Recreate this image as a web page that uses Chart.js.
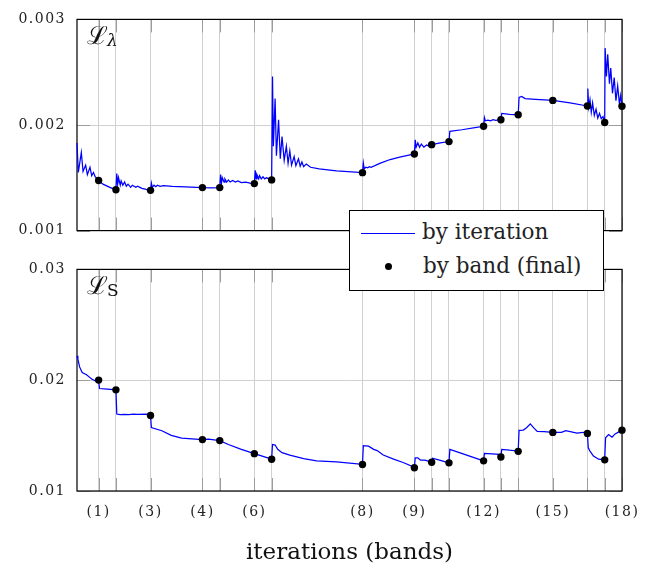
<!DOCTYPE html>
<html><head><meta charset="utf-8">
<script src="https://cdn.jsdelivr.net/npm/chart.js@4/dist/chart.umd.min.js"></script>
<style>
html,body{margin:0;padding:0;background:#fff;}
#wrap{position:relative;width:664px;height:567px;overflow:hidden;background:#fff;}
#c1{position:absolute;left:0;top:0;}
#c2{position:absolute;left:0;top:250px;}
#legend{position:absolute;left:349px;top:210px;width:255px;height:81px;box-sizing:border-box;border:1px solid #000;background:#fff;font-family:'DejaVu Serif',serif;font-size:21.5px;color:#222;}
#legend .t{position:absolute;line-height:24px;white-space:nowrap;}
#legend .ln{position:absolute;left:11px;top:22px;width:54px;height:1.3px;background:#0000ff;}
#legend .dot{position:absolute;left:34.6px;top:51.9px;width:7.4px;height:7.4px;border-radius:50%;background:#000;}
</style>
</head><body>
<div id="wrap">
<canvas id="c1" width="664" height="250"></canvas>
<canvas id="c2" width="664" height="317"></canvas>
<div id="legend">
  <div class="ln"></div><div class="t" style="left:72px;top:9px;">by iteration</div>
  <div class="dot"></div><div class="t" style="left:73px;top:43px;">by band (final)</div>
</div>
</div>
<script>
// ---- data ----
const bandEnds = [25,45,85,145,165,205,225,330,390,410,430,470,490,510,550,590,610,630];
const bandTickLabels = ['(1)','','(3)','(4)','','(6)','','(8)','(9)','','','(12)','','','(15)','','','(18)'];
const xTitle = 'iterations (bands)';

const lambdaIter = [0,1.5,5,7,10,12,15,17,19,21,25,30,38,45,46,47,48,50,51,53,55,57,59,62,64,68,70,75,80,85,86,87,89,91,93,96,100,110,125,145,155,165,166,167,168,170,171,173,175,177,180,183,186,190,195,200,205,206,207,208,210,211,213,215,217,219,222,225,226,227,229,230.5,233,235,237,239.5,242,244,246,248,251,253,256,258,260,262,265,270,280,300,330,331,332,334,336,338,340,350,362,373,385,390,391,392,394,396,398,401,404,407,410,420,430,431,445,460,470,471,472,475,478,481,484,490,491,500,510,511,514,518,530,550,570,590,590.5,591.5,593,594.5,596,598,600,602,604,606,608,610,610.5,612,613.5,615.5,617,619,621,623,625,627,628.5,630];
const lambdaVal = [1.83e-3,1.55e-3,1.74e-3,1.56e-3,1.62e-3,1.53e-3,1.60e-3,1.52e-3,1.55e-3,1.51e-3,1.475e-3,1.44e-3,1.41e-3,1.387e-3,1.54e-3,1.44e-3,1.50e-3,1.43e-3,1.47e-3,1.43e-3,1.46e-3,1.42e-3,1.44e-3,1.41e-3,1.43e-3,1.41e-3,1.42e-3,1.40e-3,1.39e-3,1.381e-3,1.45e-3,1.41e-3,1.43e-3,1.415e-3,1.43e-3,1.42e-3,1.425e-3,1.418e-3,1.415e-3,1.407e-3,1.405e-3,1.407e-3,1.53e-3,1.45e-3,1.50e-3,1.46e-3,1.49e-3,1.46e-3,1.48e-3,1.46e-3,1.475e-3,1.46e-3,1.47e-3,1.455e-3,1.46e-3,1.45e-3,1.445e-3,1.57e-3,1.49e-3,1.53e-3,1.49e-3,1.52e-3,1.49e-3,1.51e-3,1.49e-3,1.50e-3,1.49e-3,1.48e-3,2.46e-3,1.80e-3,2.25e-3,1.71e-3,2.05e-3,1.68e-3,1.89e-3,1.666e-3,1.80e-3,1.637e-3,1.755e-3,1.62e-3,1.70e-3,1.615e-3,1.68e-3,1.61e-3,1.65e-3,1.605e-3,1.63e-3,1.60e-3,1.585e-3,1.565e-3,1.549e-3,1.64e-3,1.585e-3,1.60e-3,1.595e-3,1.605e-3,1.60e-3,1.637e-3,1.673e-3,1.696e-3,1.717e-3,1.726e-3,1.86e-3,1.79e-3,1.83e-3,1.79e-3,1.82e-3,1.79e-3,1.81e-3,1.80e-3,1.814e-3,1.83e-3,1.843e-3,1.94e-3,1.955e-3,1.975e-3,1.988e-3,2.07e-3,2.04e-3,2.045e-3,2.04e-3,2.05e-3,2.045e-3,2.05e-3,2.11e-3,2.10e-3,2.097e-3,2.26e-3,2.27e-3,2.25e-3,2.243e-3,2.233e-3,2.21e-3,2.18e-3,2.345e-3,2.17e-3,2.24e-3,2.12e-3,2.21e-3,2.09e-3,2.15e-3,2.065e-3,2.11e-3,2.06e-3,2.08e-3,2.027e-3,2.73e-3,2.46e-3,2.67e-3,2.39e-3,2.54e-3,2.30e-3,2.45e-3,2.23e-3,2.37e-3,2.20e-3,2.28e-3,2.177e-3];
const lambdaBand = [1.475e-3,1.387e-3,1.381e-3,1.407e-3,1.407e-3,1.445e-3,1.48e-3,1.549e-3,1.726e-3,1.814e-3,1.843e-3,1.988e-3,2.05e-3,2.097e-3,2.233e-3,2.18e-3,2.024e-3,2.177e-3];

const sIter = [0,1,3,6,11,14,17,21,25,26,35,45,46,50,55,60,65,70,80,85,86,98,109,121,133,145,152,165,175,190,205,225,226,229,232,237,246,262,277,300,330,331,337,343,347,354,366,377,390,391,394,397,402,410,411,420,430,431,470,471,480,488,490,491,500,510,511,516,520,524,528,532,540,550,560,565,578,585,590,591,593,597,603,610,611,614.5,618.5,622,628,630];
const sVal = [2.22e-2,2.19e-2,2.12e-2,2.07e-2,2.05e-2,2.03e-2,2.01e-2,1.995e-2,2.00e-2,1.925e-2,1.92e-2,1.913e-2,1.695e-2,1.69e-2,1.692e-2,1.69e-2,1.693e-2,1.692e-2,1.694e-2,1.682e-2,1.573e-2,1.544e-2,1.502e-2,1.478e-2,1.47e-2,1.464e-2,1.468e-2,1.455e-2,1.42e-2,1.376e-2,1.337e-2,1.287e-2,1.42e-2,1.415e-2,1.376e-2,1.346e-2,1.323e-2,1.293e-2,1.272e-2,1.263e-2,1.24e-2,1.41e-2,1.405e-2,1.376e-2,1.365e-2,1.325e-2,1.287e-2,1.257e-2,1.213e-2,1.30e-2,1.30e-2,1.278e-2,1.278e-2,1.26e-2,1.296e-2,1.276e-2,1.254e-2,1.376e-2,1.272e-2,1.34e-2,1.335e-2,1.33e-2,1.31e-2,1.376e-2,1.368e-2,1.361e-2,1.547e-2,1.55e-2,1.573e-2,1.606e-2,1.57e-2,1.538e-2,1.535e-2,1.529e-2,1.53e-2,1.544e-2,1.523e-2,1.53e-2,1.517e-2,1.39e-2,1.36e-2,1.316e-2,1.287e-2,1.281e-2,1.48e-2,1.51e-2,1.485e-2,1.515e-2,1.54e-2,1.549e-2];
const sBand = [2.001e-2,1.913e-2,1.682e-2,1.464e-2,1.455e-2,1.337e-2,1.287e-2,1.239e-2,1.21e-2,1.26e-2,1.254e-2,1.272e-2,1.307e-2,1.358e-2,1.529e-2,1.52e-2,1.281e-2,1.549e-2];

const lambdaTicks = [0.001,0.002,0.003];
const lambdaTickLabels = ['0.001','0.002','0.003'];
const sTicks = [0.01,0.02,0.03];
const sTickLabels = ['0.01','0.02','0.03'];

// ---- drawing ----
const SERIF = "'DejaVu Serif', serif";
const GRID = '#d0d0d0';
const TICKMARK = '#9c9c9c';
const TICK_LS = '1.5px';

function pts(xs, ys){ return xs.map((x,i)=>({x:x, y:ys[i]})); }
function setLS(ctx, v){ try{ ctx.letterSpacing = v; }catch(e){} }

const decor = {
  id:'decor',
  beforeDraw(chart){ setLS(chart.ctx, TICK_LS); },
  beforeDatasetsDraw(chart){
    const ctx = chart.ctx, a = chart.chartArea;
    const xs = chart.scales.x, ys = chart.scales.y;
    ctx.save();
    setLS(ctx, '0px');
    ctx.strokeStyle = TICKMARK; ctx.lineWidth = 1;
    ctx.beginPath();
    xs.ticks.forEach(t=>{
      const x = Math.round(xs.getPixelForValue(t.value))+0.5;
      ctx.moveTo(x, a.bottom); ctx.lineTo(x, a.bottom-13);
      ctx.moveTo(x, a.top); ctx.lineTo(x, a.top+13);
    });
    ys.ticks.forEach(t=>{
      const y = Math.round(ys.getPixelForValue(t.value))+0.5;
      ctx.moveTo(a.left, y); ctx.lineTo(a.left+13, y);
      ctx.moveTo(a.right, y); ctx.lineTo(a.right-13, y);
    });
    ctx.stroke();
    ctx.strokeStyle = '#000'; ctx.lineWidth = 1.2;
    ctx.strokeRect(a.left, a.top, a.right-a.left, a.bottom-a.top);
    ctx.restore();
  },
  afterDraw(chart, args, opts){
    const ctx = chart.ctx, a = chart.chartArea;
    ctx.save();
    setLS(ctx, '0px');
    ctx.fillStyle = '#111';
    ctx.textBaseline = 'alphabetic';
    ctx.textAlign = 'left';
    ctx.font = "25px " + SERIF;
    ctx.fillText('\u2112', a.left+10, a.top+25);
    ctx.font = (opts.italic ? 'italic ' : '') + "17px " + SERIF;
    ctx.fillText(opts.sub, a.left+30, a.top+27);
    ctx.restore();
  }
};

function makeChart(id, xv, yv, band, yTicks, yLabels, isBottom, sub, subItalic){
  return new Chart(document.getElementById(id), {
    data:{ datasets:[
      { type:'scatter', data: pts(bandEnds, band), pointRadius:3.7, pointHoverRadius:3.7,
        backgroundColor:'#000', borderWidth:0, order:0, clip:false },
      { type:'line', data: pts(xv, yv), borderColor:'#0000ff', borderWidth:1.25,
        pointRadius:0, tension:0, fill:false, order:1, clip:2 }
    ]},
    options:{
      responsive:false, animation:false, devicePixelRatio:1,
      events:[],
      layout:{ padding:{ left:0, right:42, top: isBottom?15:11, bottom:0 } },
      plugins:{ legend:{display:false}, tooltip:{enabled:false}, decor:{ sub:sub, italic:subItalic } },
      scales:{
        x:{ type:'linear', min:0, max:630,
            afterBuildTicks(s){ s.ticks = bandEnds.map(v=>({value:v})); },
            afterFit(s){
              s.height = isBottom ? 76 : 13;
              if (!s._titlePatched){
                const orig = s.drawTitle;
                s.drawTitle = function(){ setLS(this.ctx,'0px'); orig.apply(this, arguments); setLS(this.ctx,TICK_LS); };
                s._titlePatched = true;
              }
            },
            grid:{ color:GRID, lineWidth:1, drawTicks:false },
            border:{ display:false },
            ticks:{ display:isBottom, autoSkip:false, maxRotation:0, padding:12.5,
                    font:{ family:SERIF, size:14 }, color:'#222',
                    callback:(v,i)=> bandTickLabels[i] },
            title:{ display:isBottom, text:xTitle, font:{ family:SERIF, size:23 }, color:'#111',
                    padding:{ top:0, bottom:0 } }
        },
        y:{ type:'linear', min:yTicks[0], max:yTicks[yTicks.length-1],
            afterBuildTicks(s){ s.ticks = yTicks.map(v=>({value:v})); },
            afterFit(s){ s.width = 77; },
            grid:{ color:GRID, lineWidth:1, drawTicks:false },
            border:{ display:false },
            ticks:{ padding:11, font:{ family:SERIF, size:14 }, color:'#222',
                    callback:(v,i)=> yLabels[i] }
        }
      }
    },
    plugins:[decor]
  });
}

makeChart('c1', lambdaIter, lambdaVal, lambdaBand, lambdaTicks, lambdaTickLabels, false, '\u03bb', true);
makeChart('c2', sIter, sVal, sBand, sTicks, sTickLabels, true, 'S', false);
</script>
</body></html>
